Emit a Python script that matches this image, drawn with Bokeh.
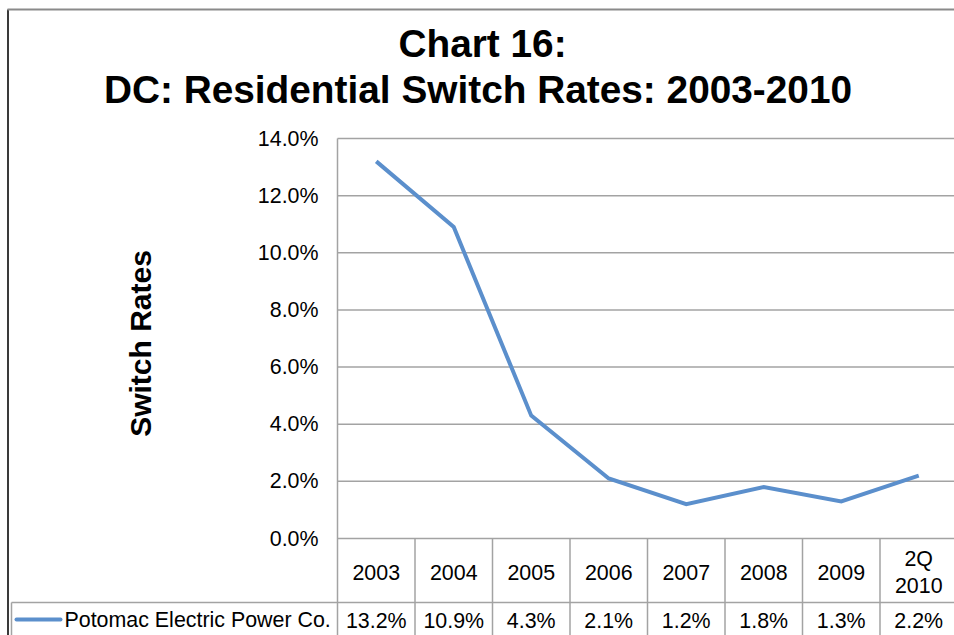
from bokeh.plotting import figure
from bokeh.models import Range1d
from bokeh.core.properties import value
from bokeh.embed import file_html
from bokeh.resources import INLINE
import math

# --- data -------------------------------------------------------------
categories = ["2003", "2004", "2005", "2006", "2007", "2008", "2009", "2Q\n2010"]
switch_rates = [13.2, 10.9, 4.3, 2.1, 1.2, 1.8, 1.3, 2.2]
series_name = "Potomac Electric Power Co."
y_ticks = [0, 2, 4, 6, 8, 10, 12, 14]
title_lines = ["Chart 16:", "DC: Residential Switch Rates: 2003-2010"]
y_label = "Switch Rates"

# --- canvas geometry (pixels) ------------------------------------------
W, H = 954, 635
PLOT_LEFT = 337          # left edge of the category area
COL_W = 77.5             # width of one category column
ZERO_Y = 538             # pixel row of 0%
PX_PER_PCT = 400 / 14    # pixels per percentage point

FONT = "Liberation Sans"
TXT = "21.4px"
GRID = "#A3A3A3"
BLUE = "#5B8FCC"


def px2x(px):
    return (px - PLOT_LEFT) / COL_W


def px2y(py):
    return (ZERO_Y - py) / PX_PER_PCT


p = figure(width=W, height=H, output_backend="svg", toolbar_location=None,
           x_range=Range1d(px2x(0), px2x(W)), y_range=Range1d(px2y(H), px2y(0)),
           x_axis_type=None, y_axis_type=None, min_border=0)
p.grid.visible = False
p.outline_line_color = None
p.background_fill_color = "white"
p.border_fill_color = "white"

n = len(categories)
xs = [i + 0.5 for i in range(n)]
x_end = px2x(W + 5)
y_bottom = px2y(H + 5)

# outer chart border
p.segment(x0=[px2x(7.5)], y0=[px2y(9)], x1=[px2x(7.5)], y1=[y_bottom],
          line_color="#3A3A3A", line_width=2)
p.segment(x0=[px2x(7)], y0=[px2y(9)], x1=[x_end], y1=[px2y(9)],
          line_color="#8A8A8A", line_width=2)

# horizontal gridlines
p.segment(x0=[0] * len(y_ticks), y0=y_ticks, x1=[x_end] * len(y_ticks), y1=y_ticks,
          line_color=GRID, line_width=1.5)

# value axis line continuing down through the data table
p.segment(x0=[0], y0=[max(y_ticks)], x1=[0], y1=[y_bottom],
          line_color=GRID, line_width=1.5)

# column separators of the data table
p.segment(x0=list(range(1, n + 1)), y0=[0] * n, x1=list(range(1, n + 1)), y1=[y_bottom] * n,
          line_color=GRID, line_width=1.5)

# row separator and legend cell
p.segment(x0=[px2x(11)], y0=[px2y(602)], x1=[x_end], y1=[px2y(602)],
          line_color=GRID, line_width=1.5)
p.segment(x0=[px2x(11)], y0=[px2y(602)], x1=[px2x(11)], y1=[y_bottom],
          line_color=GRID, line_width=1.5)

# tick labels
p.text(x=[px2x(318)] * len(y_ticks), y=y_ticks, text=[f"{t:.1f}%" for t in y_ticks],
       text_font=value(FONT), text_font_size=TXT, text_color="#000000",
       text_align="right", text_baseline="middle")

# series line
p.line(x=xs, y=switch_rates, line_color=BLUE, line_width=4, line_join="miter")

# data table: header and values
p.text(x=xs, y=[px2y(572)] * n, text=categories,
       text_font=value(FONT), text_font_size=TXT, text_color="#000000",
       text_align="center", text_baseline="middle", text_line_height=1.15)
p.text(x=xs, y=[px2y(620)] * n, text=[f"{v:.1f}%" for v in switch_rates],
       text_font=value(FONT), text_font_size=TXT, text_color="#000000",
       text_align="center", text_baseline="middle")

# legend key in the table
p.segment(x0=[px2x(16)], y0=[px2y(619)], x1=[px2x(60)], y1=[px2y(619)],
          line_color=BLUE, line_width=4, line_cap="round")
p.text(x=[px2x(64)], y=[px2y(619)], text=[series_name],
       text_font=value(FONT), text_font_size=TXT, text_color="#000000",
       text_align="left", text_baseline="middle")

# title
p.text(x=[px2x(482), px2x(477.5)], y=[px2y(43), px2y(89)], text=title_lines,
       text_font=value(FONT), text_font_size="38.8px", text_font_style="bold",
       text_color="#000000", text_align="center", text_baseline="alphabetic")

# value axis title
p.text(x=[px2x(140)], y=[px2y(343)], text=[y_label], angle=math.pi / 2,
       text_font=value(FONT), text_font_size="30px", text_font_style="bold",
       text_color="#000000", text_align="center", text_baseline="middle")

open("out.html", "w").write(file_html(p, INLINE))
